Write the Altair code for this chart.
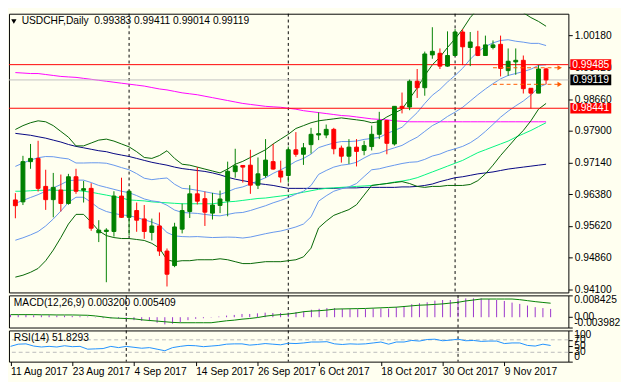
import altair as alt
import pandas as pd

# ---------------- data ----------------
dates = pd.bdate_range("2017-08-11", "2017-11-17")  # 71 daily bars

opens = [0.96246, 0.96200, 0.97163, 0.97240, 0.96570, 0.96253, 0.96484, 0.96161, 0.96801, 0.96477,
         0.96523, 0.95461, 0.95491, 0.95491, 0.96339, 0.95830, 0.95992, 0.95791, 0.95468, 0.95623,
         0.95022, 0.94675, 0.95546, 0.95969, 0.96392, 0.96276, 0.95930, 0.96115, 0.96223, 0.96923,
         0.97071, 0.97078, 0.96600, 0.96831, 0.97163, 0.96939, 0.96831, 0.97447, 0.97339, 0.97570,
         0.97801, 0.97801, 0.97936, 0.97487, 0.97293, 0.97510, 0.97431, 0.97524, 0.97817, 0.98147,
         0.97586, 0.98487, 0.98471, 0.99088, 0.98933, 0.99718, 0.99757, 0.99450, 0.99704, 1.00266,
         0.99896, 0.99912, 0.99704, 0.99896, 0.99972, 0.99342, 0.99550, 0.99589, 0.98919, 0.98803,
         0.99383]
highs = [0.96408, 0.97302, 0.97586, 0.97662, 0.96969, 0.96893, 0.96854, 0.96870, 0.96992, 0.96701,
         0.96646, 0.95761, 0.95569, 0.96454, 0.96778, 0.96477, 0.96184, 0.96124, 0.95800, 0.95946,
         0.95084, 0.95699, 0.96161, 0.96600, 0.97032, 0.96447, 0.96415, 0.96470, 0.97163, 0.97471,
         0.97078, 0.97447, 0.97263, 0.97702, 0.97586, 0.97186, 0.97524, 0.97870, 0.97609, 0.97972,
         0.98341, 0.98051, 0.97972, 0.97547, 0.97702, 0.97702, 0.97662, 0.98025, 0.98355, 0.98164,
         0.98487, 0.98817, 0.99127, 0.99381, 0.99797, 1.00381, 0.99873, 1.00282, 1.00335, 1.00335,
         1.00266, 1.00296, 1.00180, 1.00065, 1.00180, 0.99873, 0.99873, 0.99704, 0.98919, 0.99473,
         0.99411]
lows = [0.95807, 0.96124, 0.96992, 0.96447, 0.96008, 0.95830, 0.95969, 0.96131, 0.96392, 0.96184,
        0.95507, 0.95237, 0.94276, 0.95368, 0.95814, 0.95392, 0.95484, 0.95315, 0.95276, 0.94906,
        0.94174, 0.94636, 0.95445, 0.95814, 0.96138, 0.95623, 0.95777, 0.95930, 0.95854, 0.96778,
        0.96662, 0.96392, 0.96507, 0.96778, 0.96969, 0.96662, 0.96662, 0.97279, 0.97085, 0.97355,
        0.97678, 0.97725, 0.97339, 0.97140, 0.97108, 0.97048, 0.97316, 0.97431, 0.97702, 0.97339,
        0.97547, 0.98318, 0.98395, 0.98688, 0.98741, 0.99626, 0.99381, 0.99434, 0.99688, 0.99473,
        0.99450, 0.99688, 0.99704, 0.99850, 0.99203, 0.99219, 0.99242, 0.98794, 0.98434, 0.98803,
        0.99014]
closes = [0.96108, 0.97163, 0.97240, 0.96523, 0.96253, 0.96547, 0.96161, 0.96801, 0.96454, 0.96516,
          0.95569, 0.95523, 0.95523, 0.96339, 0.95830, 0.96454, 0.95761, 0.95491, 0.95623, 0.95022,
          0.94468, 0.95599, 0.95992, 0.96392, 0.96216, 0.95953, 0.96124, 0.96269, 0.96932, 0.97062,
          0.97032, 0.96600, 0.96870, 0.97200, 0.96985, 0.96794, 0.97447, 0.97339, 0.97494, 0.97817,
          0.97833, 0.97936, 0.97471, 0.97293, 0.97510, 0.97408, 0.97547, 0.97817, 0.98147, 0.97602,
          0.98487, 0.98441, 0.99088, 0.98933, 0.99741, 0.99804, 0.99450, 0.99704, 1.00266, 0.99912,
          1.00028, 0.99704, 0.99958, 0.99958, 0.99395, 0.99566, 0.99589, 0.98910, 0.98803, 0.99381,
          0.99119]

# Bollinger bands (20, 2) outer lines
bb_upper = [0.97932, 0.98025, 0.98094, 0.98140, 0.98117, 0.98025, 0.97886, 0.97748, 0.97540, 0.97540,
            0.97609, 0.97678, 0.97702, 0.97655, 0.97586, 0.97517, 0.97401, 0.97263, 0.97240, 0.97309,
            0.97424, 0.97240, 0.97101, 0.97078, 0.97032, 0.96985, 0.96939, 0.96893, 0.96985, 0.97101,
            0.97170, 0.97263, 0.97355, 0.97447, 0.97586, 0.97702, 0.97817, 0.97956, 0.98025, 0.98094,
            0.98140, 0.98164, 0.98187, 0.98210, 0.98187, 0.98164, 0.98140, 0.98094, 0.98117, 0.98233,
            0.98325, 0.98418, 0.98672, 0.98926, 0.99226, 0.99480, 0.99665, 0.99896, 1.00104, 1.00335,
            1.00612, 1.00820, 1.00936, 1.00982, 1.00982, 1.00936, 1.00820, 1.00728, 1.00612, 1.00520,
            1.00404]
bb_lower = [0.94398, 0.94444, 0.94514, 0.94606, 0.94791, 0.95045, 0.95345, 0.95669, 0.95900, 0.95900,
            0.95715, 0.95507, 0.95392, 0.95345, 0.95322, 0.95322, 0.95299, 0.95276, 0.95207, 0.95091,
            0.94814, 0.94768, 0.94791, 0.94791, 0.94814, 0.94814, 0.94814, 0.94837, 0.94814, 0.94768,
            0.94722, 0.94722, 0.94745, 0.94768, 0.94768, 0.94768, 0.94791, 0.94814, 0.94883, 0.95091,
            0.95576, 0.95738, 0.95877, 0.95946, 0.96015, 0.96131, 0.96362, 0.96593, 0.96616, 0.96639,
            0.96662, 0.96685, 0.96639, 0.96570, 0.96547, 0.96570, 0.96570, 0.96593, 0.96593, 0.96593,
            0.96616, 0.96708, 0.96870, 0.97078, 0.97309, 0.97517, 0.97725, 0.97909, 0.98140, 0.98418,
            0.98556]
sma100 = [0.96454, 0.96454, 0.96466, 0.96477, 0.96477, 0.96477, 0.96477, 0.96477, 0.96477, 0.96454,
          0.96431, 0.96396, 0.96362, 0.96327, 0.96292, 0.96246, 0.96235, 0.96223, 0.96200, 0.96188,
          0.96177, 0.96165, 0.96154, 0.96154, 0.96154, 0.96154, 0.96154, 0.96177, 0.96200, 0.96212,
          0.96235, 0.96258, 0.96281, 0.96292, 0.96316, 0.96339, 0.96362, 0.96396, 0.96431, 0.96466,
          0.96500, 0.96523, 0.96535, 0.96547, 0.96558, 0.96570, 0.96581, 0.96593, 0.96616, 0.96639,
          0.96674, 0.96697, 0.96731, 0.96778, 0.96847, 0.96916, 0.96985, 0.97055, 0.97124, 0.97193,
          0.97286, 0.97378, 0.97447, 0.97517, 0.97586, 0.97655, 0.97748, 0.97829, 0.97909, 0.98002,
          0.98094]
sma200 = [0.97840, 0.97817, 0.97794, 0.97759, 0.97725, 0.97678, 0.97632, 0.97574, 0.97528, 0.97494,
          0.97459, 0.97424, 0.97401, 0.97355, 0.97320, 0.97286, 0.97240, 0.97193, 0.97147, 0.97112,
          0.97078, 0.97032, 0.96997, 0.96974, 0.96951, 0.96928, 0.96893, 0.96847, 0.96789, 0.96743,
          0.96708, 0.96674, 0.96639, 0.96616, 0.96593, 0.96558, 0.96523, 0.96523, 0.96523, 0.96523,
          0.96523, 0.96523, 0.96523, 0.96535, 0.96535, 0.96535, 0.96547, 0.96547, 0.96547, 0.96547,
          0.96547, 0.96558, 0.96558, 0.96570, 0.96593, 0.96627, 0.96685, 0.96731, 0.96778, 0.96801,
          0.96835, 0.96870, 0.96893, 0.96916, 0.96951, 0.96985, 0.97009, 0.97032, 0.97055, 0.97078,
          0.97101]
ma_magenta = [0.99295, 0.99284, 0.99272, 0.99272, 0.99249, 0.99226, 0.99203, 0.99191, 0.99180, 0.99157,
              0.99134, 0.99111, 0.99088, 0.99064, 0.99041, 0.99018, 0.98995, 0.98972, 0.98937, 0.98903,
              0.98880, 0.98845, 0.98810, 0.98787, 0.98764, 0.98729, 0.98695, 0.98660, 0.98626, 0.98591,
              0.98556, 0.98533, 0.98510, 0.98487, 0.98475, 0.98464, 0.98441, 0.98418, 0.98383, 0.98360,
              0.98337, 0.98314, 0.98291, 0.98267, 0.98256, 0.98233, 0.98210, 0.98187, 0.98175, 0.98164,
              0.98140, 0.98129, 0.98117, 0.98117, 0.98117, 0.98117, 0.98117, 0.98117, 0.98117, 0.98117,
              0.98117, 0.98117, 0.98117, 0.98117, 0.98117, 0.98117, 0.98117, 0.98117, 0.98117, 0.98117,
              0.98117]
macd_main = [0.00088, 0.00088, 0.00088, 0.00075, 0.00075, 0.00075, 0.00063, 0.00063, 0.00050, 0.00038,
             0.00025, -0.00013, -0.00038, -0.00038, -0.00050, -0.00063, -0.00113, -0.00138, -0.00150, -0.00213,
             -0.00276, -0.00251, -0.00188, -0.00113, -0.00063, -0.00038, -0.00013, 0.00025, 0.00063, 0.00088,
             0.00125, 0.00125, 0.00150, 0.00175, 0.00163, 0.00163, 0.00175, 0.00200, 0.00226, 0.00288,
             0.00326, 0.00351, 0.00351, 0.00326, 0.00313, 0.00313, 0.00313, 0.00338, 0.00338, 0.00338,
             0.00388, 0.00413, 0.00501, 0.00539, 0.00576, 0.00639, 0.00664, 0.00664, 0.00702, 0.00727,
             0.00727, 0.00727, 0.00702, 0.00664, 0.00627, 0.00564, 0.00514, 0.00451, 0.00388, 0.00351,
             0.003200]
macd_signal = [0.00100, 0.00100, 0.00100, 0.00100, 0.00094, 0.00094, 0.00088, 0.00088, 0.00088, 0.00081,
               0.00075, 0.00050, 0.00013, -0.00025, -0.00038, -0.00050, -0.00063, -0.00100, -0.00125, -0.00150,
               -0.00175, -0.00200, -0.00213, -0.00213, -0.00213, -0.00213, -0.00213, -0.00175, -0.00138, -0.00113,
               -0.00075, -0.00050, -0.00013, 0.00038, 0.00075, 0.00100, 0.00125, 0.00163, 0.00213, 0.00238,
               0.00251, 0.00276, 0.00313, 0.00320, 0.00326, 0.00332, 0.00338, 0.00351, 0.00363, 0.00376,
               0.00388, 0.00413, 0.00439, 0.00464, 0.00476, 0.00495, 0.00514, 0.00545, 0.00576, 0.00627,
               0.00664, 0.00702, 0.00702, 0.00702, 0.00702, 0.00702, 0.00677, 0.00639, 0.00601, 0.00570,
               0.005409]
rsi = [49, 56, 57, 50, 47, 49, 47, 51, 48, 49,
       40, 41, 42, 49, 45, 49, 46, 43, 45, 40,
       35, 45, 49, 52, 51, 48, 50, 52, 56, 57,
       57, 53, 55, 58, 56, 54, 59, 58, 60, 63,
       63, 64, 57, 55, 57, 56, 57, 60, 63, 56,
       63, 63, 68, 66, 71, 72, 67, 69, 72, 67,
       68, 65, 66, 66, 58, 60, 60, 52, 50, 56,
       51.8293]

level_lines = [0.99485, 0.98441]          # red horizontal lines
level_boxes = ["0.99485", "0.99119", "0.98441"]
level_box_colors = ["#FF0000", "#000000", "#FF0000"]
bid_price = 0.99119
month_starts = [15, 36, 58]                 # 1 Sep, 2 Oct, 1 Nov
last_hilo = [0.99411, 0.99014]
price_ticks = [1.0018, 0.9942, 0.9866, 0.9790, 0.9714, 0.9638, 0.9562, 0.9486, 0.9410]
macd_ticks = [0.008425, 0.0, -0.003982]
rsi_ticks = [100, 70, 50, 30, 0]
rsi_levels = [70, 30]

title_text = "USDCHF,Daily\u00a0 0.99383 0.99411 0.99014 0.99119"
macd_text = "MACD(12,26,9) 0.003200 0.005409"
rsi_text = "RSI(14) 51.8293"

# ---------------- tables ----------------
n = len(closes)
df = pd.DataFrame({
    "i": list(range(n)), "o": opens, "h": highs, "l": lows, "c": closes,
    "up2": bb_upper, "lo2": bb_lower, "s100": sma100, "s200": sma200, "mag": ma_magenta,
    "macd": macd_main, "sig": macd_signal, "rsi": rsi,
})
df["col"] = ["#008000" if c >= o else "#FF0000" for o, c in zip(opens, closes)]
df["mid"] = (df["up2"] + df["lo2"]) / 2
df["up1"] = df["mid"] + (df["up2"] - df["lo2"]) / 4
df["lo1"] = df["mid"] - (df["up2"] - df["lo2"]) / 4
df["zero"] = 0.0

labels = [f"{d.day} {d.strftime('%b %Y')}" for d in dates]
tick_idx = list(range(0, 65, 8))
label_expr = "[" + ",".join("'" + labels[k] + "'" for k in tick_idx) + "][datum.value/8]"

FONT = "Liberation Sans Narrow, Liberation Sans, sans-serif"
FS = 10.5
W = 574
H_MAIN, H_MACD, H_RSI = 286, 33, 32

xs = alt.Scale(domain=[-0.2, 72.3], nice=False, zero=False)
X0 = alt.X("i:Q", scale=xs, axis=None)

# ---------------- main panel ----------------
ys = alt.Scale(domain=[0.94031, 1.00704], nice=False, zero=False)
yax = alt.Axis(orient="right", values=price_ticks, format=".5f", title=None, grid=False, domain=False,
               tickSize=4, tickColor="black", labelColor="black", labelFont=FONT, labelFontSize=FS,
               labelPadding=2, labelOverlap=False)


def Y(field):
    return alt.Y(field, type="quantitative", scale=ys, axis=yax)


base = alt.Chart(df)


def line(field, color):
    return base.mark_line(color=color, strokeWidth=1, clip=True).encode(x=X0, y=Y(field))


hl = pd.DataFrame({"p": level_lines})
red_lines = alt.Chart(hl).mark_rule(color="#FF0000", strokeWidth=1).encode(y=Y("p"))
bid = alt.Chart(pd.DataFrame({"p": [bid_price]})).mark_rule(color="#C0C0C0", strokeWidth=1).encode(y=Y("p"))
vdf = pd.DataFrame({"i": month_starts})
vlines_main = alt.Chart(vdf).mark_rule(color="black", strokeWidth=1, strokeDash=[3, 3]).encode(x=X0)

wicks = base.mark_rule(strokeWidth=1).encode(x=X0, y=Y("l"), y2="h:Q", color=alt.Color("col:N", scale=None))
bodies = base.mark_bar(size=4, strokeWidth=1).encode(
    x=X0, y=Y("o"), y2="c:Q",
    color=alt.Color("col:N", scale=None), stroke=alt.Stroke("col:N", scale=None))

hilo = pd.DataFrame({"p": last_hilo, "a": [n - 8] * 2, "b": [n + 0.8] * 2})
hilo_lines = alt.Chart(hilo).mark_rule(color="#FF5A00", strokeWidth=1, strokeDash=[4, 3]).encode(
    x=alt.X("a:Q", scale=xs, axis=None), x2="b:Q", y=Y("p"))
hilo_arrows = alt.Chart(hilo).mark_point(shape="triangle-right", filled=True, size=28, color="#FF5A00",
                                         opacity=1).encode(x=alt.X("b:Q", scale=xs, axis=None), y=Y("p"))

boxes_df = pd.DataFrame({"p": [float(t) for t in level_boxes], "t": level_boxes, "bg": level_box_colors})
boxes = alt.Chart(boxes_df).mark_point(shape="M-1,-0.262H1V0.262H-1Z", filled=True, size=42 * 42,
                                       opacity=1, strokeWidth=0).encode(
    x=alt.value(W + 23), y=Y("p"), color=alt.Color("bg:N", scale=None))
box_text = alt.Chart(boxes_df).mark_text(color="white", font=FONT, fontSize=FS, align="center",
                                         baseline="middle").encode(x=alt.value(W + 23), y=Y("p"), text="t:N")

one = pd.DataFrame({"t": [title_text]})
tri = alt.Chart(one).mark_point(shape="triangle-down", filled=True, size=30, color="black", opacity=1).encode(
    x=alt.value(5), y=alt.value(8))
title = alt.Chart(one).mark_text(font=FONT, fontSize=FS, align="left", baseline="middle", color="black").encode(
    x=alt.value(13), y=alt.value(8), text="t:N")

main = alt.layer(
    vlines_main,
    line("mag", "#FF00FF"), line("s200", "#000080"), line("s100", "#00F57F"),
    line("up1", "#6495ED"), line("mid", "#6495ED"), line("lo1", "#6495ED"),
    line("up2", "#006400"), line("lo2", "#006400"),
    red_lines, bid, wicks, bodies, hilo_lines, hilo_arrows, tri, title, boxes, box_text,
).properties(width=W, height=H_MAIN)

# ---------------- MACD panel ----------------
ms = alt.Scale(domain=[-0.003982, 0.008425], nice=False, zero=False)
max_ = alt.Axis(orient="right", values=macd_ticks, title=None, grid=False, domain=False, labels=False,
                tickSize=4, tickColor="black")


def MY(field):
    return alt.Y(field, type="quantitative", scale=ms, axis=max_)


vlines_macd = alt.Chart(vdf).mark_rule(color="black", strokeWidth=1, strokeDash=[3, 3]).encode(x=X0)
macd_bars = base.mark_rule(color="#9932CC", strokeWidth=1).encode(x=X0, y=MY("zero"), y2="macd:Q")
macd_sig = base.mark_line(color="#008000", strokeWidth=1).encode(x=X0, y=MY("sig"))
mlab = pd.DataFrame({"v": macd_ticks, "t": ["0.008425", "0.00", "-0.003982"]})


def side_text(d, baseline, ych):
    return alt.Chart(d).mark_text(font=FONT, fontSize=FS, align="left", baseline=baseline, color="black").encode(
        x=alt.value(W + 6), y=ych, text="t:N")


macd_lbls = [
    side_text(mlab.iloc[[0]], "top", MY("v")),
    side_text(mlab.iloc[[1]], "middle", MY("v")),
    side_text(mlab.iloc[[2]], "bottom", MY("v")),
]
macd_title = alt.Chart(pd.DataFrame({"t": [macd_text]})).mark_text(
    font=FONT, fontSize=FS, align="left", baseline="middle", color="black").encode(
    x=alt.value(5), y=alt.value(8), text="t:N")
macd = alt.layer(vlines_macd, macd_bars, macd_sig, macd_title, *macd_lbls).properties(width=W, height=H_MACD)

# ---------------- RSI panel ----------------
rs = alt.Scale(domain=[0, 100], nice=False, zero=False)
rax = alt.Axis(orient="right", values=rsi_ticks, title=None, grid=False, domain=False, labels=False,
               tickSize=4, tickColor="black")
xax = alt.Axis(values=tick_idx, labelExpr=label_expr, title=None, grid=False, domain=False, tickSize=4,
               tickColor="black", labelAlign="left", labelFlush=False, labelPadding=1, labelFont=FONT,
               labelFontSize=FS, labelColor="black", labelOverlap=False)
XR = alt.X("i:Q", scale=xs, axis=xax)


def RY(field):
    return alt.Y(field, type="quantitative", scale=rs, axis=rax)


vlines_rsi = alt.Chart(vdf).mark_rule(color="black", strokeWidth=1, strokeDash=[3, 3]).encode(x=XR)
lev = alt.Chart(pd.DataFrame({"v": rsi_levels})).mark_rule(color="#BBBBBB", strokeWidth=1,
                                                            strokeDash=[4, 3]).encode(y=RY("v"))
rsi_line = base.mark_line(color="#1E90FF", strokeWidth=1).encode(x=XR, y=RY("rsi"))
rlab = pd.DataFrame({"v": rsi_ticks, "t": [str(v) for v in rsi_ticks]})
rsi_lbls = [
    side_text(rlab.iloc[[0]], "top", RY("v")),
    side_text(rlab.iloc[[1, 2, 3]], "middle", RY("v")),
    side_text(rlab.iloc[[4]], "bottom", RY("v")),
]
rsi_title = alt.Chart(pd.DataFrame({"t": [rsi_text]})).mark_text(
    font=FONT, fontSize=FS, align="left", baseline="middle", color="black").encode(
    x=alt.value(5), y=alt.value(8), text="t:N")
rsi_panel = alt.layer(vlines_rsi, lev, rsi_line, rsi_title, *rsi_lbls).properties(width=W, height=H_RSI)

chart = alt.vconcat(main, macd, rsi_panel, spacing=3, bounds="flush").properties(
    padding=0, background="#FFFFF0"
).configure_view(stroke="black", strokeWidth=1)

chart.save("out.html", embed_options={"renderer": "svg", "actions": False})
